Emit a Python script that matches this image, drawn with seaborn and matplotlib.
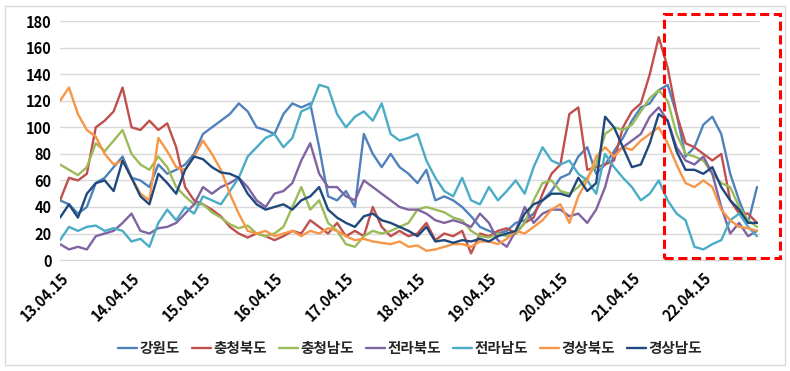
import pandas as pd
import matplotlib.pyplot as plt
import matplotlib.dates as mdates
from matplotlib.patches import Rectangle
import seaborn as sns

# 3-hourly readings, 13.04.15 00:00 .. 22.04.15 18:00
times = pd.date_range('2015-04-13 00:00', periods=79, freq='3h')

gangwon = [45, 42, 35, 40, 58, 62, 70, 78,
           62, 60, 55, 72, 65, 68, 72, 80,
           95, 100, 105, 110, 118, 112, 100, 98,
           95, 110, 118, 115, 118, 85, 48, 45,
           52, 40, 95, 80, 70, 80, 70, 65,
           58, 68, 45, 48, 45, 40, 33, 25,
           22, 20, 22, 28, 30, 35, 45, 52,
           62, 65, 78, 85, 65, 72, 82, 92,
           105, 115, 118, 128, 132, 110, 78, 85,
           102, 108, 95, 65, 45, 28, 55]
chungbuk = [45, 62, 60, 65, 100, 105, 112, 130,
            100, 98, 105, 98, 103, 85, 55, 45,
            42, 38, 33, 25, 20, 17, 20, 18,
            15, 18, 22, 20, 30, 25, 20, 28,
            18, 22, 18, 40, 25, 18, 22, 18,
            20, 28, 15, 20, 18, 22, 5, 20,
            18, 22, 24, 20, 28, 32, 50, 65,
            72, 110, 115, 68, 70, 72, 75, 100,
            112, 118, 140, 168, 145, 110, 88, 85,
            80, 75, 80, 45, 35, 35, 28]
chungnam = [72, 68, 64, 70, 88, 82, 90, 98,
            80, 72, 68, 78, 70, 55, 48, 42,
            42, 36, 32, 27, 24, 26, 20, 18,
            20, 25, 40, 55, 38, 45, 28, 22,
            12, 10, 18, 22, 20, 22, 25, 28,
            38, 40, 38, 36, 32, 30, 22, 18,
            17, 20, 18, 20, 28, 45, 58, 60,
            52, 50, 55, 62, 72, 95, 100, 98,
            102, 112, 122, 128, 120, 95, 80, 78,
            75, 65, 58, 55, 40, 30, 25]
jeonbuk = [12, 8, 10, 8, 18, 20, 22, 28,
           35, 22, 20, 24, 25, 28, 35, 42,
           55, 50, 55, 58, 62, 55, 45, 40,
           50, 52, 58, 75, 88, 65, 55, 55,
           48, 45, 60, 55, 50, 45, 40, 38,
           38, 35, 30, 28, 30, 28, 25, 35,
           28, 15, 10, 22, 40, 28, 35, 38,
           38, 33, 35, 28, 38, 55, 80, 85,
           90, 95, 108, 115, 105, 85, 75, 72,
           78, 65, 40, 20, 28, 18, 22]
jeonnam = [15, 25, 22, 25, 26, 22, 24, 22,
           14, 16, 10, 28, 38, 30, 40, 35,
           48, 45, 42, 52, 62, 78, 85, 92,
           95, 85, 92, 112, 115, 132, 130, 110,
           100, 108, 112, 105, 118, 95, 90, 92,
           95, 75, 62, 52, 48, 62, 45, 42,
           55, 45, 52, 60, 50, 70, 85, 75,
           72, 75, 65, 60, 50, 80, 70, 62,
           55, 45, 50, 60, 45, 35, 30, 10,
           8, 12, 15, 30, 35, 25, 18]
gyeongbuk = [120, 130, 110, 98, 93, 80, 72, 75,
             62, 50, 45, 92, 82, 70, 68, 78,
             90, 80, 68, 50, 35, 22, 20, 22,
             18, 20, 22, 18, 22, 20, 24, 22,
             18, 15, 16, 14, 13, 12, 14, 10,
             11, 7, 8, 10, 12, 12, 10, 14,
             14, 12, 16, 22, 20, 25, 30, 38,
             42, 28, 48, 60, 78, 85, 78, 85,
             83, 90, 95, 100, 88, 72, 58, 55,
             60, 55, 38, 30, 25, 24, 22]
gyeongnam = [32, 42, 32, 50, 58, 60, 52, 75,
             62, 48, 42, 65, 58, 50, 68, 78,
             76, 70, 66, 65, 62, 50, 42, 38,
             40, 42, 38, 45, 48, 55, 38, 32,
             28, 25, 33, 35, 30, 28, 25, 22,
             18, 25, 14, 15, 13, 15, 14, 16,
             14, 18, 20, 22, 35, 42, 45, 50,
             50, 48, 62, 52, 58, 108, 100, 85,
             70, 72, 88, 110, 105, 82, 68, 68,
             65, 70, 55, 45, 38, 28, 28]

regions = ['강원도', '충청북도', '충청남도', '전라북도', '전라남도', '경상북도', '경상남도']
colors = ['#4F81BD', '#C0504D', '#9BBB59', '#8064A2', '#4BACC6', '#F79646', '#1F497D']
series = [gangwon, chungbuk, chungnam, jeonbuk, jeonnam, gyeongbuk, gyeongnam]

# long format table for seaborn
frames = []
for name, vals in zip(regions, series):
    frames.append(pd.DataFrame({'time': times, 'value': vals, 'region': name}))
df = pd.concat(frames, ignore_index=True)

sns.set_style('white')
plt.rcParams['font.family'] = ['Noto Sans CJK KR', 'DejaVu Sans']

fig = plt.figure(figsize=(7.9, 3.71), dpi=100)
ax = fig.add_axes([0.076, 0.299, 0.886, 0.644])

sns.lineplot(data=df, x='time', y='value', hue='region', hue_order=regions,
             palette=dict(zip(regions, colors)), linewidth=1.7, ax=ax)

ax.set_ylim(0, 180)
ax.set_yticks(range(0, 181, 20))
ax.set_xlim(times[0], pd.Timestamp('2015-04-22 19:00'))
ax.xaxis.set_major_locator(mdates.DayLocator())
ax.xaxis.set_major_formatter(mdates.DateFormatter('%d.%m.%y'))
ax.grid(axis='y', color='#D9D9D9', linewidth=1)
ax.set_xlabel('')
ax.set_ylabel('')
for side in ['top', 'right', 'left']:
    ax.spines[side].set_visible(False)
ax.spines['bottom'].set_color('#D9D9D9')
ax.tick_params(axis='x', length=5, color='#D9D9D9', direction='out', pad=2)
ax.tick_params(axis='y', length=0, pad=6)
for lab in ax.get_xticklabels():
    lab.set_rotation(45)
    lab.set_ha('right')
    lab.set_rotation_mode('anchor')
    lab.set_fontsize(10.5)
    lab.set_fontweight('bold')
    lab.set_color('black')
for lab in ax.get_yticklabels():
    lab.set_fontsize(10.5)
    lab.set_fontweight('bold')
    lab.set_color('black')

ax.legend(loc='center', bbox_to_anchor=(0.5, -0.37), ncol=7, frameon=False,
          handlelength=1.3, handletextpad=0.2, columnspacing=0.8,
          prop={'weight': 'bold', 'size': 10.5})

# red dashed highlight box
fig.patches.append(Rectangle((664 / 790, 1 - 258 / 371), 116 / 790, 244 / 371,
                             transform=fig.transFigure, fill=False, edgecolor='#FF0000',
                             linestyle=(0, (3, 1.5)), linewidth=2.2))
# light outer frame
fig.patches.append(Rectangle((5 / 790, 6 / 371), 780 / 790, 359 / 371,
                             transform=fig.transFigure, fill=False, edgecolor='#D9D9D9',
                             linewidth=1))

fig.savefig('out.png', dpi=100)
